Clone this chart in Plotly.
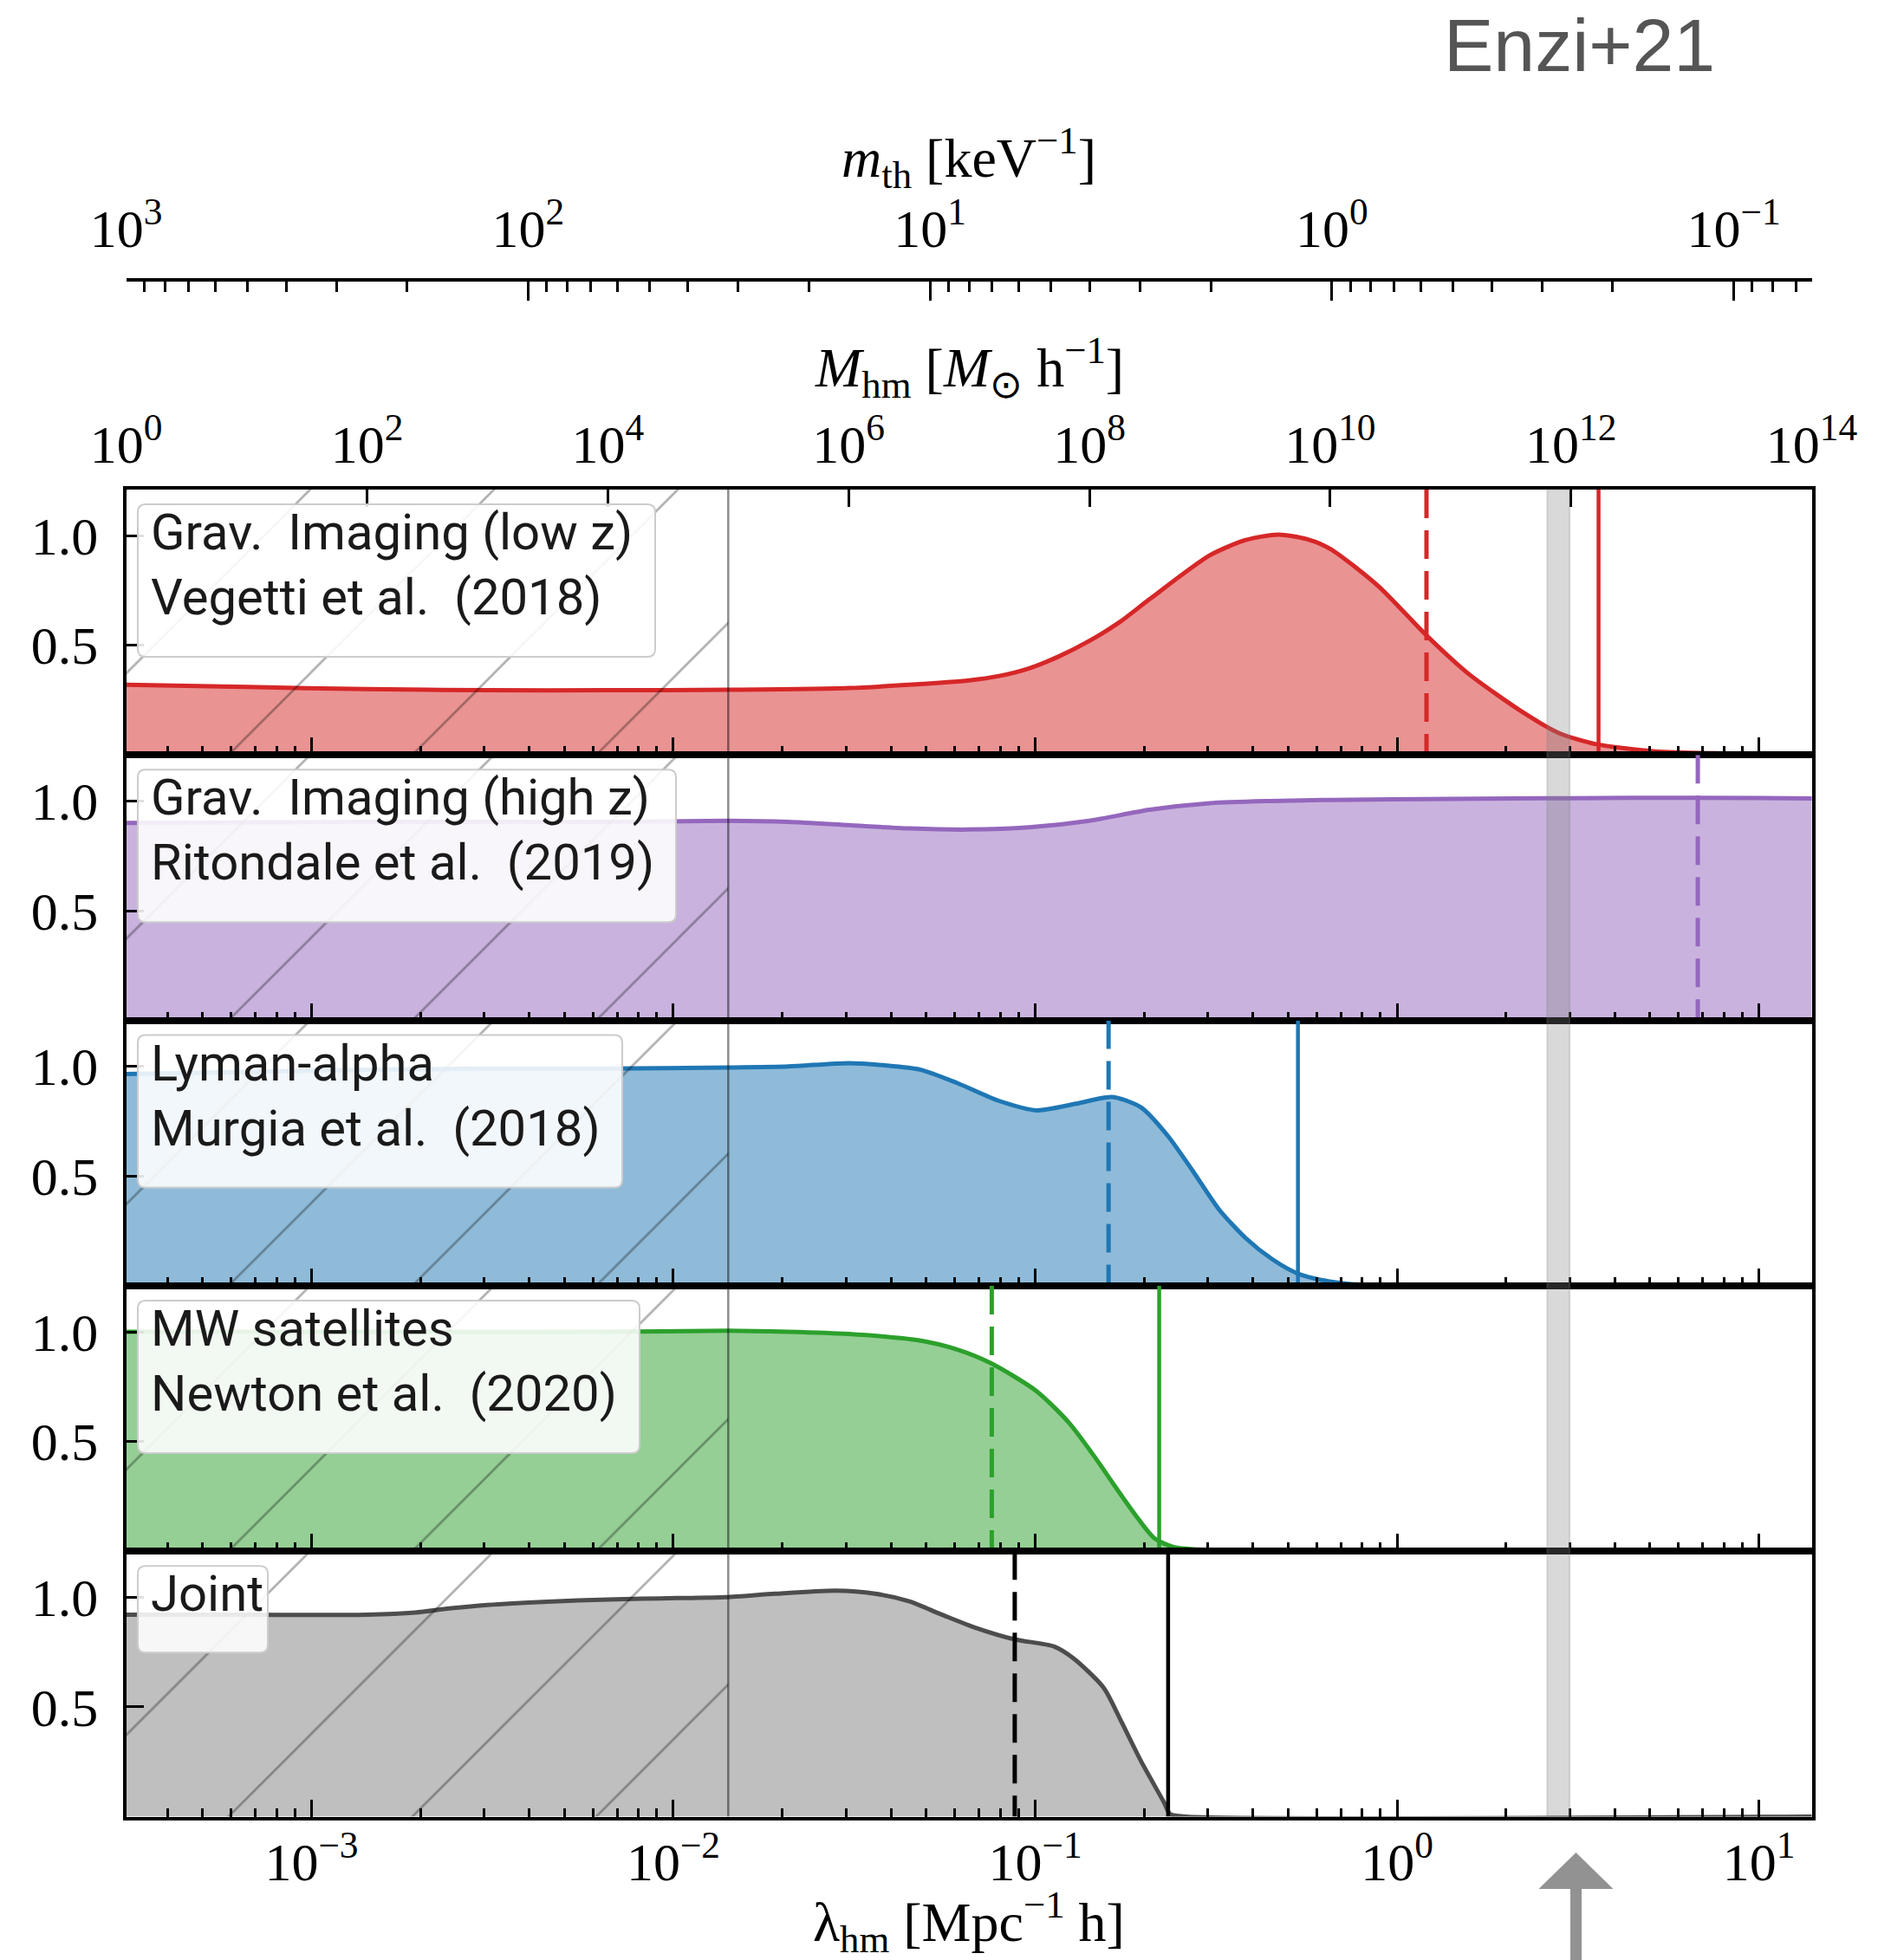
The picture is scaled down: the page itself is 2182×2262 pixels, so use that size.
import plotly.graph_objects as go

W, H = 2182, 2262

# ---------------- data ----------------
# x values: lambda_hm [Mpc^-1 h]; y values: normalised posterior
lam_red = [3.0e-4, 6.62e-4, 1.423e-3, 3.062e-3, 6.59e-3, 0.01418, 0.0305, 0.04471, 0.06559, 0.07946,
           0.0962, 0.1165, 0.1411, 0.1709, 0.207, 0.3036, 0.382, 0.4697, 0.5603, 0.6531,
           0.8873, 1.206, 1.576, 2.225, 2.80, 3.524, 5.168, 7.578, 14.5]
p_red = [0.32, 0.31, 0.30, 0.295, 0.295, 0.297, 0.305, 0.32, 0.34, 0.36,
         0.395, 0.45, 0.52, 0.605, 0.71, 0.91, 0.98, 1.005, 0.985, 0.94,
         0.77, 0.545, 0.37, 0.195, 0.10, 0.05, 0.016, 0.008, 0.005]

lam_purple = [3.0e-4, 1.423e-3, 6.59e-3, 0.01418, 0.02078, 0.0305, 0.04471, 0.06559, 0.0962, 0.1411,
              0.207, 0.3036, 0.4454, 0.6531, 1.405, 3.023, 6.504, 14.5]
p_purple = [0.90, 0.905, 0.905, 0.91, 0.905, 0.89, 0.875, 0.87, 0.88, 0.91,
            0.96, 0.99, 1.0, 1.005, 1.01, 1.013, 1.015, 1.012]

lam_blue = [3.0e-4, 6.62e-4, 1.423e-3, 3.062e-3, 6.59e-3, 0.01418, 0.02078, 0.0305, 0.03837, 0.04829,
            0.06075, 0.07879, 0.1008, 0.1297, 0.1632, 0.1962, 0.2322, 0.2727, 0.3227, 0.382,
            0.452, 0.5311, 0.6286, 0.7439, 0.8873, 0.9581]
p_blue = [0.965, 0.975, 0.985, 0.99, 0.99, 0.995, 1.0, 1.015, 1.005, 0.985,
          0.925, 0.845, 0.80, 0.83, 0.861, 0.813, 0.685, 0.523, 0.346, 0.217,
          0.121, 0.056, 0.024, 0.008, 0.002, 0.0]

lam_green = [3.0e-4, 1.423e-3, 6.59e-3, 0.01418, 0.02078, 0.0305, 0.04755, 0.06075, 0.07528, 0.1008,
             0.1239, 0.1466, 0.1658, 0.1881, 0.2135, 0.2412, 0.3036, 14.5]
p_green = [1.0, 1.0, 1.0, 1.005, 1.0, 0.99, 0.962, 0.92, 0.858, 0.73,
           0.586, 0.426, 0.298, 0.171, 0.059, 0.019, 0.005, 0.0]

lam_joint = [3.0e-4, 6.62e-4, 1.423e-3, 1.934e-3, 2.433e-3, 3.062e-3, 4.492e-3, 6.59e-3, 0.0102, 0.01396,
             0.01911, 0.02803, 0.03609, 0.04471, 0.05499, 0.06816, 0.08777, 0.113, 0.1277, 0.1547,
             0.1722, 0.1962, 0.2269, 0.2358, 0.2604, 14.5]
p_joint = [0.92, 0.92, 0.92, 0.93, 0.95, 0.965, 0.98, 0.99, 0.996, 1.0,
           1.016, 1.03, 1.016, 0.982, 0.922, 0.862, 0.808, 0.775, 0.721, 0.587,
           0.44, 0.252, 0.065, 0.012, 0.0, 0.0]

# limits (dashed / solid vertical lines)
lam_dashed = [1.206, 6.78, 0.1595, 0.07586, 0.0878]
lam_solid = [3.605, None, 0.5323, 0.2201, 0.233]
lam_hatch = 0.01418          # M_hm = 1e5 Msun/h
lam_band = [2.6, 3.0]        # grey band

# ticks
lam_major = [1e-3, 1e-2, 1e-1, 1e0, 1e1]
lam_labels = ["10<sup>−3</sup>", "10<sup>−2</sup>", "10<sup>−1</sup>", "10<sup>0</sup>", "10<sup>1</sup>"]
lam_minor = [k * 10.0 ** d for d in range(-4, 2) for k in range(2, 10)]
mhm_exp = [0, 2, 4, 6, 8, 10, 12, 14]
mhm_labels = ["10<sup>%d</sup>" % e for e in mhm_exp]
mth_major = [1e3, 1e2, 1e1, 1e0, 1e-1]
mth_labels = ["10<sup>3</sup>", "10<sup>2</sup>", "10<sup>1</sup>", "10<sup>0</sup>", "10<sup>−1</sup>"]
mth_minor = [k * 10.0 ** d for d in range(-2, 3) for k in range(2, 10)]
y_ticks = [0.5, 1.0]
y_labels = ["0.5", "1.0"]

panel_text = [
    ["Grav.\u00a0 Imaging (low z)", "Vegetti et al.\u00a0 (2018)"],
    ["Grav.\u00a0 Imaging (high z)", "Ritondale et al.\u00a0 (2019)"],
    ["Lyman-alpha", "Murgia et al.\u00a0 (2018)"],
    ["MW satellites", "Newton et al.\u00a0 (2020)"],
    ["Joint"],
]
series_x = [lam_red, lam_purple, lam_blue, lam_green, lam_joint]
series_y = [p_red, p_purple, p_blue, p_green, p_joint]
line_colors = ["#d62728", "#9467bd", "#1f77b4", "#2ca02c", "#4d4d4d"]
fill_colors = ["rgba(214,39,40,0.5)", "rgba(148,103,189,0.5)", "rgba(31,119,180,0.5)",
               "rgba(44,160,44,0.5)", "rgba(128,128,128,0.5)"]
vline_colors = ["#d62728", "#9467bd", "#1f77b4", "#2ca02c", "#000000"]

# ---------------- geometry ----------------
SERIF = "Liberation Serif"
SANS = "Roboto"
X0, X1 = 145.7, 2090.5
tops = [565.0, 871.3, 1177.6, 1483.9, 1790.2]
bots = tops[1:] + [2096.5]
LAM_RANGE = [-3.512, 1.146]
YMAX = 1.21


def px(X):
    return X / W


def py(Y):
    return 1 - Y / H


fig = go.Figure()
layout = dict(
    width=W, height=H, autosize=False,
    margin=dict(l=0, r=0, t=0, b=0, pad=0, autoexpand=False),
    paper_bgcolor="white", plot_bgcolor="rgba(0,0,0,0)",
    showlegend=False,
)

tickfont = dict(family=SERIF, size=62, color="black")

for i in range(5):
    k = "" if i == 0 else str(i + 1)
    xa, ya = "x" + k, "y" + k
    layout["xaxis" + k] = dict(
        domain=[px(X0), px(X1)], anchor=ya, type="log", range=LAM_RANGE, automargin=False,
        showgrid=False, zeroline=False, showline=True, linecolor="black", linewidth=4,
        mirror=True, ticks="inside", ticklen=20, tickwidth=3, tickcolor="black",
        tickmode="array", tickvals=lam_major, ticktext=lam_labels,
        showticklabels=(i == 4), tickfont=tickfont, ticklabelstandoff=-5,
        minor=dict(tickmode="array", tickvals=lam_minor, ticks="inside", ticklen=10,
                   tickwidth=3, tickcolor="black", showgrid=False),
    )
    layout["yaxis" + k] = dict(
        domain=[py(bots[i]), py(tops[i])], anchor=xa, range=[0, YMAX], automargin=False,
        showgrid=False, zeroline=False, showline=True, linecolor="black", linewidth=4,
        mirror=True, ticks="inside", ticklen=20, tickwidth=3, tickcolor="black",
        tickmode="array", tickvals=y_ticks, ticktext=y_labels, tickfont=tickfont,
        ticklabelstandoff=16,
    )

    # posterior curve with fill
    fig.add_trace(go.Scatter(
        x=series_x[i], y=series_y[i], xaxis=xa, yaxis=ya, mode="lines",
        line=dict(color=line_colors[i], width=5, shape="spline", smoothing=0.7),
        fill="tozeroy", fillcolor=fill_colors[i], hoverinfo="skip",
    ))
    # dashed and solid limits
    fig.add_trace(go.Scatter(
        x=[lam_dashed[i], lam_dashed[i]], y=[YMAX, 0], xaxis=xa, yaxis=ya, mode="lines",
        line=dict(color=vline_colors[i], width=5, dash="33px,14px"), hoverinfo="skip",
    ))
    if lam_solid[i] is not None:
        fig.add_trace(go.Scatter(
            x=[lam_solid[i], lam_solid[i]], y=[YMAX, 0], xaxis=xa, yaxis=ya, mode="lines",
            line=dict(color=vline_colors[i], width=4.5), hoverinfo="skip",
        ))
    # hatched excluded region
    fig.add_trace(go.Scatter(
        x=[2e-4, lam_hatch], y=[YMAX + 0.2, YMAX + 0.2], xaxis=xa, yaxis=ya, mode="lines",
        line=dict(width=0), fill="tozeroy", fillcolor="rgba(0,0,0,0)",
        fillpattern=dict(shape="/", size=150, solidity=0.018, fgcolor="rgba(0,0,0,0.62)",
                         bgcolor="rgba(0,0,0,0)"),
        hoverinfo="skip",
    ))
    fig.add_trace(go.Scatter(
        x=[lam_hatch, lam_hatch], y=[0, YMAX], xaxis=xa, yaxis=ya, mode="lines",
        line=dict(color="rgba(0,0,0,0.45)", width=2.5), hoverinfo="skip",
    ))

# halo-mass axis on top of the first panel
layout["xaxis6"] = dict(
    overlaying="x", anchor="y", side="top", type="linear", range=[0, 14], automargin=False,
    showgrid=False, zeroline=False, showline=False,
    ticks="inside", ticklen=20, tickwidth=3, tickcolor="black",
    tickmode="array", tickvals=mhm_exp, ticktext=mhm_labels, tickfont=tickfont,
    ticklabelstandoff=18,
)
# thermal relic mass axis (free floating)
layout["xaxis7"] = dict(
    overlaying="x", anchor="free", position=py(323), side="top", type="log", automargin=False,
    range=[3, -1.194], showgrid=False, zeroline=False, showline=True,
    linecolor="black", linewidth=4,
    ticks="inside", ticklen=22, tickwidth=3, tickcolor="black",
    tickmode="array", tickvals=mth_major, ticktext=mth_labels, tickfont=tickfont,
    ticklabelstandoff=11,
    minor=dict(tickmode="array", tickvals=mth_minor, ticks="inside", ticklen=12,
               tickwidth=3, tickcolor="black", showgrid=False),
)
fig.add_trace(go.Scatter(x=[7], y=[-1], xaxis="x6", yaxis="y", mode="markers",
                         marker=dict(opacity=0), hoverinfo="skip"))
fig.add_trace(go.Scatter(x=[10], y=[-1], xaxis="x7", yaxis="y", mode="markers",
                         marker=dict(opacity=0), hoverinfo="skip"))

shapes = []
# grey band across all panels
shapes.append(dict(type="rect", xref="x5", yref="paper", x0=lam_band[0], x1=lam_band[1],
                   y0=py(bots[-1]), y1=py(tops[0]), fillcolor="rgba(128,128,128,0.3)",
                   line=dict(color="rgba(128,128,128,0.25)", width=2), layer="above"))


def rbox(Xa, Ya, Xb, Yb, r=9):
    def P(X, Y):
        return "%.6f,%.6f" % (px(X), py(Y))
    return ("M" + P(Xa + r, Ya) + " L" + P(Xb - r, Ya) + " Q" + P(Xb, Ya) + " " + P(Xb, Ya + r)
            + " L" + P(Xb, Yb - r) + " Q" + P(Xb, Yb) + " " + P(Xb - r, Yb)
            + " L" + P(Xa + r, Yb) + " Q" + P(Xa, Yb) + " " + P(Xa, Yb - r)
            + " L" + P(Xa, Ya + r) + " Q" + P(Xa, Ya) + " " + P(Xa + r, Ya) + " Z")


box_w = [597, 621, 559, 579, 150]
annotations = []
for i in range(5):
    bt = tops[i] + 17
    bh = 176 if len(panel_text[i]) == 2 else 100
    shapes.append(dict(type="path", xref="paper", yref="paper", path=rbox(159, bt, 159 + box_w[i], bt + bh),
                       fillcolor="rgba(255,255,255,0.88)", line=dict(color="#cccccc", width=2),
                       layer="above"))
    for j, t in enumerate(panel_text[i]):
        base = bt + 52 + 75 * j
        annotations.append(dict(text=t, x=px(172), y=py(base - 20), xref="paper", yref="paper",
                                xanchor="left", yanchor="middle", showarrow=False,
                                font=dict(family=SANS, size=58, color="#1a1a1a")))

# arrow under the band
ax_c = 1818.5
shapes.append(dict(type="rect", xref="paper", yref="paper", x0=px(ax_c - 6.5), x1=px(ax_c + 6.5),
                   y0=py(2262), y1=py(2178), fillcolor="#929292", line=dict(width=0), layer="above"))
shapes.append(dict(type="path", xref="paper", yref="paper",
                   path="M%.6f,%.6f L%.6f,%.6f L%.6f,%.6f Z" % (px(ax_c - 43), py(2180), px(ax_c + 43), py(2180),
                                                               px(ax_c), py(2138)),
                   fillcolor="#929292", line=dict(width=0), layer="above"))

title_font = dict(family=SERIF, size=64, color="black")
annotations += [
    dict(text="<i>m</i><sub>th</sub> [keV<sup>−1</sup>]", x=px(1118), y=py(182), xref="paper", yref="paper",
         xanchor="center", yanchor="middle", showarrow=False, font=title_font),
    dict(text="<i>M</i><sub>hm</sub> [<i>M</i><sub>⊙</sub> h<sup>−1</sup>]", x=px(1118), y=py(424),
         xref="paper", yref="paper", xanchor="center", yanchor="middle", showarrow=False, font=title_font),
    dict(text="λ<sub>hm</sub> [Mpc<sup>−1</sup> h]", x=px(1118), y=py(2218), xref="paper", yref="paper",
         xanchor="center", yanchor="middle", showarrow=False, font=title_font),
    dict(text="Enzi+21", x=px(1822), y=py(52), xref="paper", yref="paper", xanchor="center",
         yanchor="middle", showarrow=False, font=dict(family="Liberation Sans", size=86, color="#555555")),
]

layout["shapes"] = shapes
layout["annotations"] = annotations
fig.update_layout(**layout)
fig.update_traces(showlegend=False)
fig.write_html("out.html", config={"displayModeBar": False})
